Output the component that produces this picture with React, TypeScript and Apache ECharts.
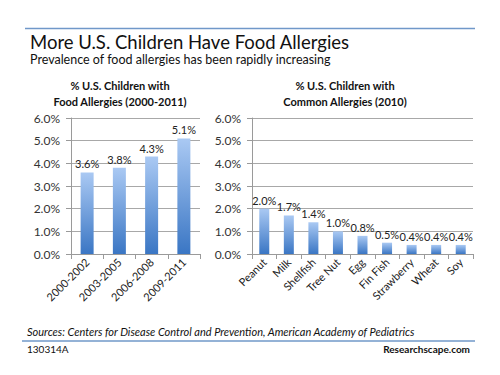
import React, { useEffect, useRef } from "react";
import * as echarts from "echarts";

const periods = ["2000-2002", "2003-2005", "2006-2008", "2009-2011"];
const periodValues = [3.6, 3.8, 4.3, 5.1];
const allergens = ["Peanut", "Milk", "Shellfish", "Tree Nut", "Egg", "Fin Fish", "Strawberry", "Wheat", "Soy"];
const allergenValues = [2.0, 1.7, 1.4, 1.0, 0.8, 0.5, 0.4, 0.4, 0.4];

const FONT = "Lato, 'Open Sans', sans-serif";
const lineColor = "#7098c9";
const barGradient = new echarts.graphic.LinearGradient(0, 0, 0, 1, [
  { offset: 0, color: "#aac9f3" },
  { offset: 1, color: "#3a76c4" },
]);

function yAxis(gridIndex: number) {
  return {
    type: "value" as const,
    gridIndex,
    min: 0,
    max: 6,
    interval: 1,
    axisLine: { show: true, lineStyle: { color: "#9a9a9a" } },
    axisTick: { show: true, length: 5, lineStyle: { color: "#9a9a9a" } },
    splitLine: { lineStyle: { color: "#a8a8a8" } },
    axisLabel: {
      formatter: (v: number) => v.toFixed(1) + "%",
      color: "#333",
      fontSize: 12,
      fontFamily: FONT,
      margin: 11,
    },
  };
}

function xAxis(gridIndex: number, data: string[]) {
  return {
    type: "category" as const,
    gridIndex,
    data,
    axisLine: { lineStyle: { color: "#9a9a9a" } },
    axisTick: { show: true, length: 5, lineStyle: { color: "#9a9a9a" } },
    axisLabel: {
      rotate: 45,
      interval: 0,
      color: "#222",
      fontSize: 11,
      fontFamily: FONT,
      margin: 6,
    },
  };
}

function barSeries(idx: number, data: number[], width: number) {
  return {
    type: "bar" as const,
    xAxisIndex: idx,
    yAxisIndex: idx,
    data,
    barWidth: width,
    itemStyle: { color: barGradient },
    label: {
      show: true,
      position: "top" as const,
      formatter: (p: any) => p.value.toFixed(1) + "%",
      color: "#222",
      fontSize: 11,
      fontFamily: FONT,
      distance: 3,
    },
  };
}

export default function App() {
  const ref = useRef<HTMLDivElement>(null);
  useEffect(() => {
    if (!ref.current) return;
    const chart = echarts.init(ref.current, null, { renderer: "svg" });
    chart.setOption({
      animation: false,
      backgroundColor: "#fff",
      grid: [
        { left: 71, right: 300, top: 118, bottom: 121 },
        { left: 252, right: 27, top: 118, bottom: 121 },
      ],
      xAxis: [xAxis(0, periods), xAxis(1, allergens)],
      yAxis: [yAxis(0), yAxis(1)],
      series: [barSeries(0, periodValues, 13), barSeries(1, allergenValues, 10)],
      graphic: [
        { type: "line", shape: { x1: 25, y1: 28.5, x2: 475, y2: 28.5 }, style: { stroke: lineColor, lineWidth: 1.5 } },
        { type: "text", x: 30, y: 32, style: { text: "More U.S. Children Have Food Allergies", font: `18.5px ${FONT}`, fill: "#111" } },
        { type: "text", x: 30, y: 53, style: { text: "Prevalence of food allergies has been rapidly increasing", font: `12.5px ${FONT}`, fill: "#111" } },
        { type: "text", x: 120, y: 77, style: { text: "% U.S. Children with\nFood Allergies (2000-2011)", font: `bold 11px ${FONT}`, fill: "#111", align: "center", lineHeight: 16 } },
        { type: "text", x: 345, y: 77, style: { text: "% U.S. Children with\nCommon Allergies (2010)", font: `bold 11px ${FONT}`, fill: "#111", align: "center", lineHeight: 16 } },
        { type: "text", x: 27, y: 326, style: { text: "Sources: Centers for Disease Control and Prevention, American Academy of Pediatrics", font: `italic 11px ${FONT}`, fill: "#111" } },
        { type: "line", shape: { x1: 22, y1: 341, x2: 475, y2: 341 }, style: { stroke: lineColor, lineWidth: 1.5 } },
        { type: "text", x: 27, y: 344, style: { text: "130314A", font: `10px ${FONT}`, fill: "#111" } },
        { type: "text", x: 470, y: 344, style: { text: "Researchscape.com", font: `bold 10px ${FONT}`, fill: "#111", align: "right" } },
      ],
    });
    return () => chart.dispose();
  }, []);
  return <div ref={ref} style={{ position: "fixed", left: 0, top: 0, width: 500, height: 375 }} />;
}
